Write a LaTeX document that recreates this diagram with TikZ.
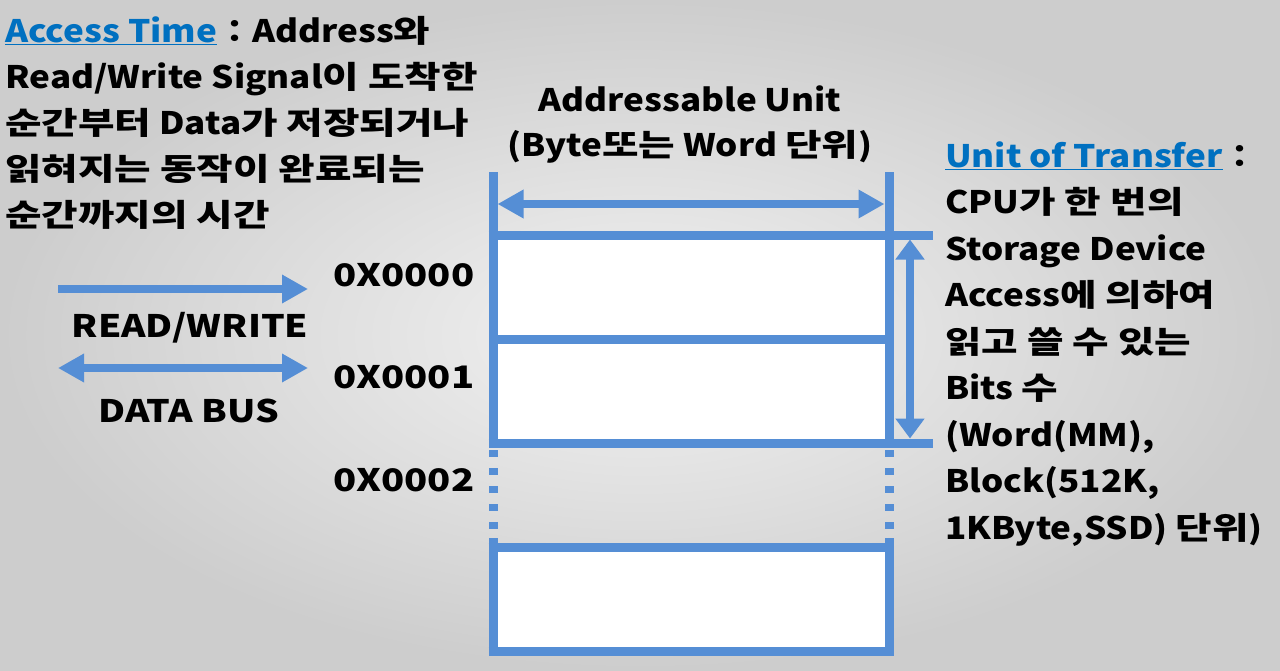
\documentclass[tikz,border=0pt]{standalone}
\usepackage{fontspec}
\setmainfont{Noto Sans CJK KR}[FakeStretch=1.13]
\newfontfamily\krfam{Noto Sans CJK KR}[FakeStretch=1.28]
\newfontfamily\lblfam{Noto Sans CJK KR}[FakeStretch=1.2]
\newfontfamily\adrfam{Noto Sans CJK KR}[FakeStretch=1.23]
\newcommand\hk[1]{{\krfam\bfseries #1}}
\usetikzlibrary{arrows.meta}
\definecolor{mblue}{HTML}{558ED5}
\definecolor{tblue}{HTML}{0070C0}
\definecolor{bgin}{HTML}{F2F2F2}
\definecolor{bgout}{HTML}{CDCDCD}
\begin{document}
\begin{tikzpicture}[x=1pt,y=-1pt,
  txt/.style={anchor=base west, inner sep=0pt, font=\fontsize{31}{36}\selectfont\bfseries},
  ctxt/.style={txt, anchor=base},
  lbl/.style={anchor=base, inner sep=0pt, font=\fontsize{31}{36}\selectfont\lblfam\bfseries},
  adr/.style={anchor=base west, inner sep=0pt, font=\fontsize{31}{36}\selectfont\adrfam\bfseries},
  mline/.style={draw=mblue, line width=9pt},
  harrow/.style={draw=mblue, line width=7.5pt},
  tipA/.style={arrows={-Triangle[length=26pt,width=27pt]}},
  tipB/.style={arrows={Triangle[length=26pt,width=27pt]-Triangle[length=26pt,width=27pt]}},
  tipC/.style={arrows={Triangle[length=20pt,width=28pt]-Triangle[length=20pt,width=28pt]}}]
\useasboundingbox (0,0) rectangle (1280,670);
\shade[inner color=bgin, outer color=bgout] (0,0) rectangle (1280,670);

% memory cells
\fill[white] (493,235) rectangle (889,443);
\fill[white] (493,547) rectangle (889,651);
\draw[mline] (493,172) -- (493,447.5);
\draw[mline] (889,172) -- (889,447.5);
\draw[mline] (488.5,235) -- (933,235);
\draw[mline] (493,339) -- (889,339);
\draw[mline] (488.5,443) -- (933,443);
\draw[mline, dash pattern=on 7pt off 11pt] (493,450) -- (493,530);
\draw[mline, dash pattern=on 7pt off 11pt] (889,450) -- (889,530);
\draw[mline] (493,538) -- (493,651);
\draw[mline] (889,538) -- (889,651);
\draw[mline] (488.5,547) -- (893.5,547);
\draw[mline] (488.5,651) -- (893.5,651);

% arrows
\coordinate (au1) at (497.5,204);
\coordinate (au2) at (884.5,204);
\draw[harrow, tipB] (au1) -- (au2);
\coordinate (ut1) at (910,239.5);
\coordinate (ut2) at (910,438.5);
\draw[harrow, tipC] (ut1) -- (ut2);
\coordinate (rw1) at (58,289);
\coordinate (rw2) at (308,289);
\draw[harrow, tipA] (rw1) -- (rw2);
\coordinate (db1) at (58,368);
\coordinate (db2) at (308,368);
\draw[harrow, tipB] (db1) -- (db2);

% left text
\node[txt] (l1) at (5,42) {\textcolor{tblue}{\underline{Access Time}}：Address\hk{와}};
\node[txt] (l2) at (5,88) {Read/Write Signal\hk{이 도착한}};
\node[txt] (l3) at (5,134) {\hk{순간부터} Data\hk{가 저장되거나}};
\node[txt] (l4) at (5,180) {\hk{읽혀지는 동작이 완료되는}};
\node[txt] (l5) at (5,226) {\hk{순간까지의 시간}};

% header
\node[ctxt] (h1) at (690,111) {Addressable Unit};
\node[ctxt] (h2) at (690,156) {(Byte\hk{또는} Word \hk{단위})};

% addresses
\node[adr] (a0) at (333,286) {0X0000};
\node[adr] (a1) at (333,388) {0X0001};
\node[adr] (a2) at (333,491) {0X0002};

\node[lbl] (rw) at (190,337) {READ/WRITE};
\node[lbl] (db) at (189,422) {DATA BUS};

% right text
\node[txt] (r1) at (945,167) {\textcolor{tblue}{\underline{Unit of Transfer}}：};
\node[txt] (r2) at (945,213.5) {CPU\hk{가 한 번의}};
\node[txt] (r3) at (945,260) {Storage Device};
\node[txt] (r4) at (945,306.5) {Access\hk{에 의하여}};
\node[txt] (r5) at (945,353) {\hk{읽고 쓸 수 있는}};
\node[txt] (r6) at (945,399.5) {Bits \hk{수}};
\node[txt] (r7) at (945,446) {(Word(MM),};
\node[txt] (r8) at (945,492.5) {Block(512K,};
\node[txt] (r9) at (945,539) {1KByte,SSD) \hk{단위})};
\end{tikzpicture}
\end{document}
